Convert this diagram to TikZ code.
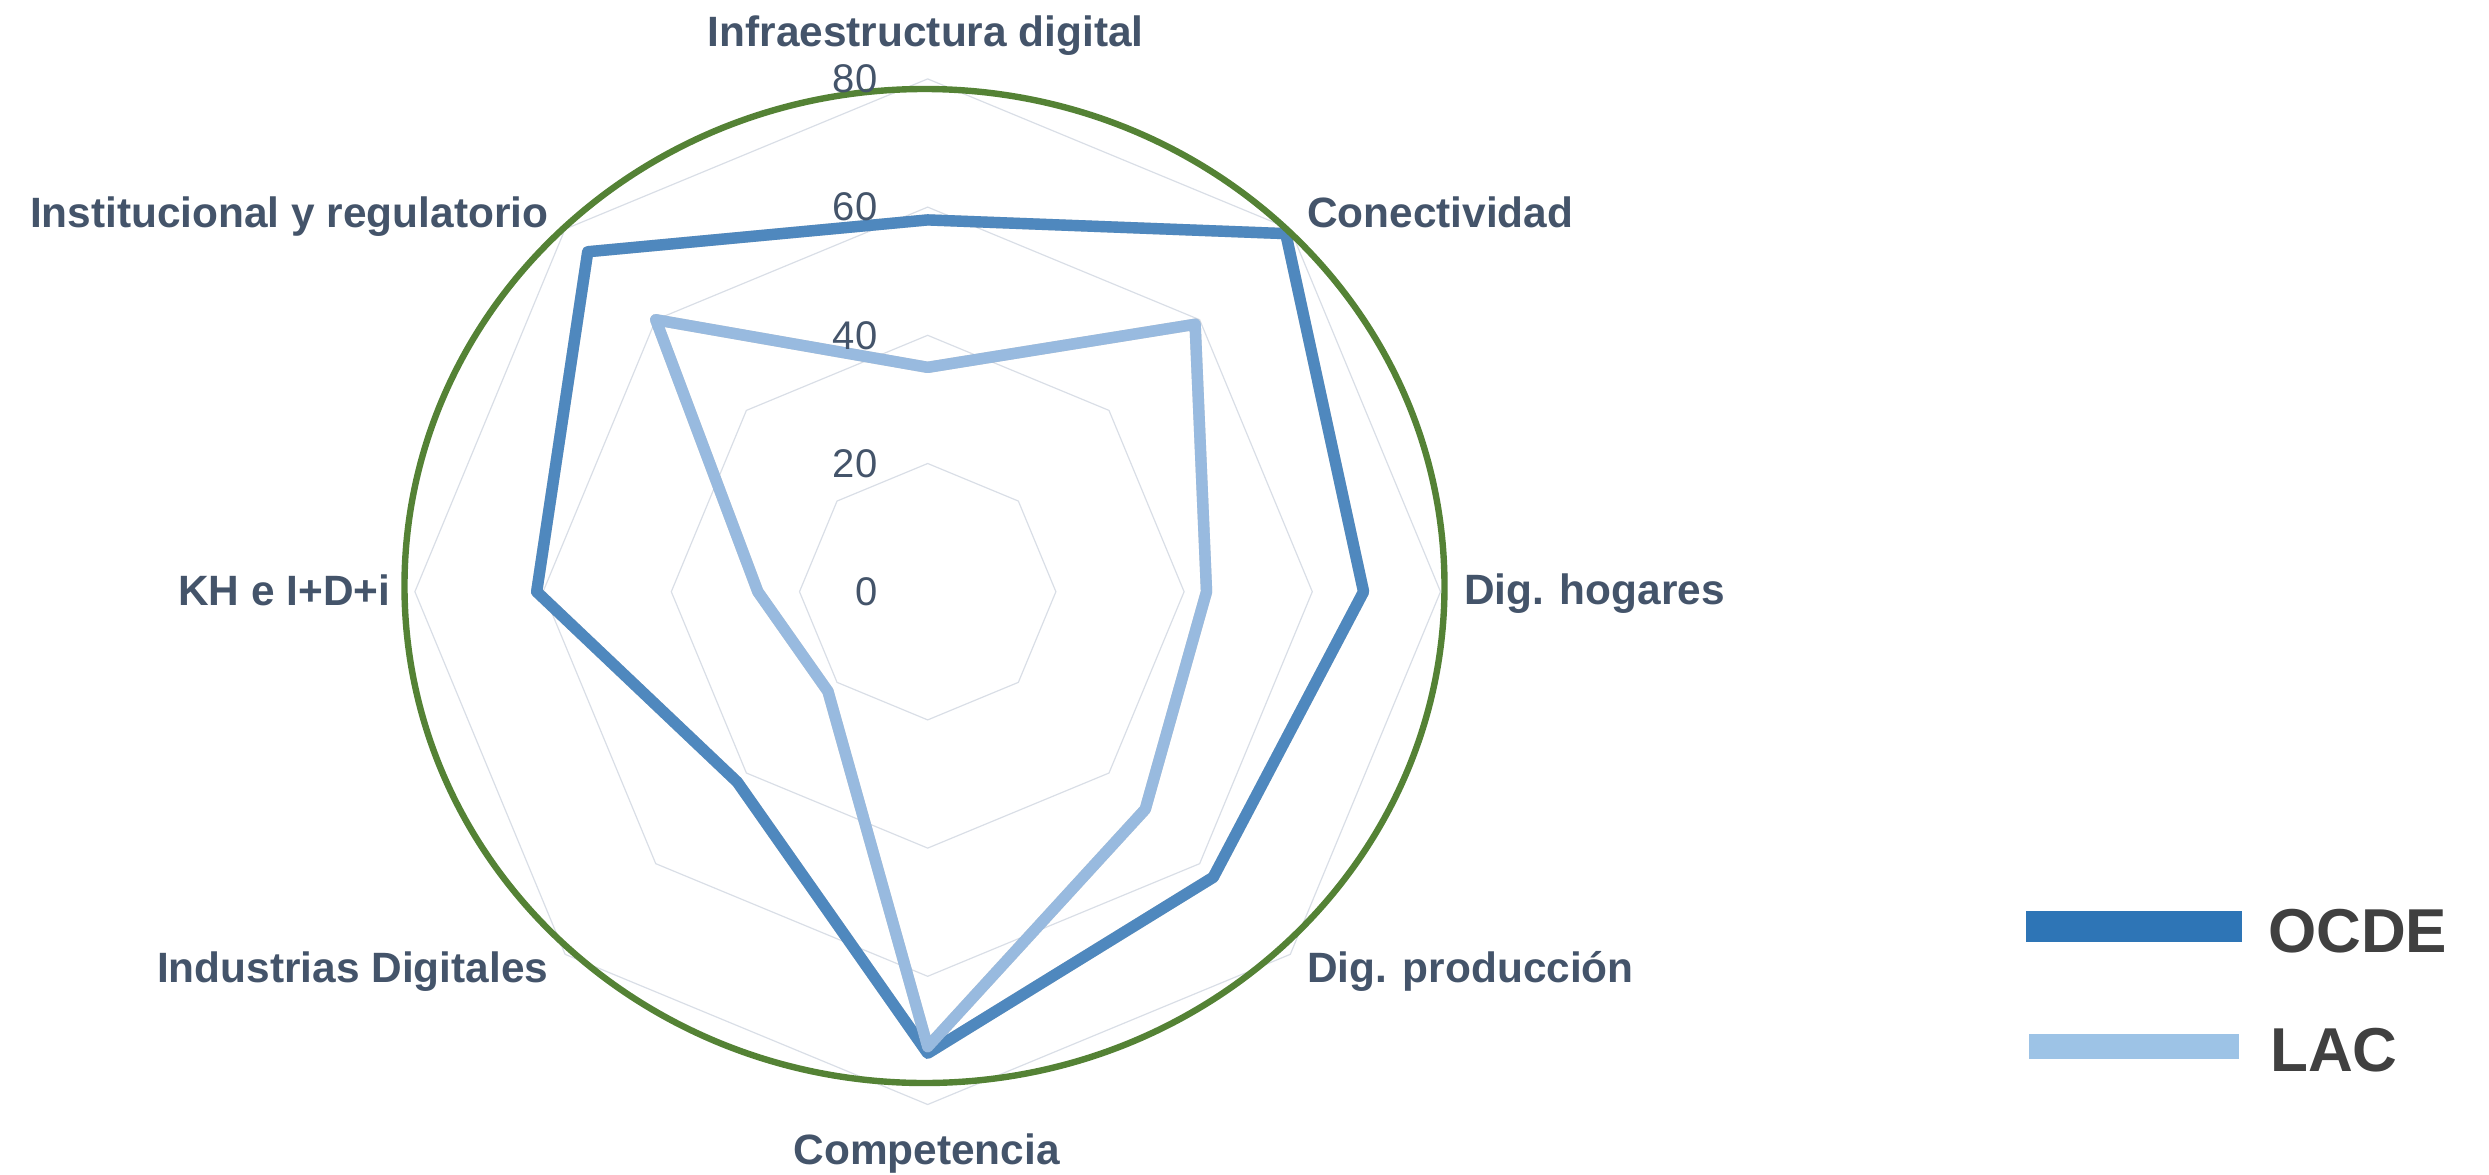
\documentclass[tikz,border=0pt]{standalone}
\usepackage{fontspec}
\setmainfont{Liberation Sans}
\definecolor{labelslate}{HTML}{44546A}
\definecolor{legendgray}{HTML}{404040}
\definecolor{ringgray}{HTML}{D9DEE6}
\definecolor{ocdeline}{HTML}{4F88BE}
\definecolor{lacline}{HTML}{98BADF}
\definecolor{ocdekey}{HTML}{2E75B6}
\definecolor{lackey}{HTML}{9DC3E6}
\definecolor{rimgreen}{HTML}{548235}

\begin{document}
\begin{tikzpicture}[x=0.5pt,y=0.5pt,
    axislabel/.style={font=\bfseries\fontsize{21.2}{24}\selectfont,text=labelslate,inner sep=0},
    ticklabel/.style={font=\fontsize{20}{24}\selectfont,text=labelslate,inner sep=0,anchor=east},
    keylabel/.style={font=\bfseries\fontsize{31}{36}\selectfont,text=legendgray,inner sep=0,anchor=base west},
    ring/.style={draw=ringgray,line width=0.6pt},
    series/.style={line width=5.7pt,line join=round},
    shade/.style={line width=5.7pt,line join=round,draw=black,opacity=0.18}]
    \useasboundingbox (-927.7,-582.3) rectangle (1561.3,591.7);

    % grid rings 20..80
    \begin{scope}[scale=6.41]
        \foreach \r in {20,40,60,80}
            \draw[ring] (90:\r) \foreach \k in {1,...,7}{ -- ({90-45*\k}:\r)} -- cycle;

        \foreach \v [count=\i] in {58,79,68,63,72,42,61,75}
            \coordinate (ocde\i) at ({135-45*\i}:\v);
        \foreach \v [count=\i] in {35,59,43.5,48,71,22,26.5,60}
            \coordinate (lac\i) at ({135-45*\i}:\v);
    \end{scope}

    \draw[shade,shift={(3,-4)}] (ocde1) -- (ocde2) -- (ocde3) -- (ocde4) -- (ocde5) -- (ocde6) -- (ocde7) -- (ocde8) -- cycle;
    \draw[series,draw=ocdeline] (ocde1) -- (ocde2) -- (ocde3) -- (ocde4) -- (ocde5) -- (ocde6) -- (ocde7) -- (ocde8) -- cycle;

    \draw[shade,shift={(3,-4)}] (lac1) -- (lac2) -- (lac3) -- (lac4) -- (lac5) -- (lac6) -- (lac7) -- (lac8) -- cycle;
    \draw[series,draw=lacline] (lac1) -- (lac2) -- (lac3) -- (lac4) -- (lac5) -- (lac6) -- (lac7) -- (lac8) -- cycle;

    \draw[rimgreen,line width=3.2pt] (-3.2,5.7) ellipse [x radius=520, y radius=497];

    \foreach \v in {0,20,40,60,80}
        \node[ticklabel] (tick\v) at (-50,{\v*6.41}) {\v};

    % axis names
    \node[axislabel,anchor=base] (infra) at (-2,545) {Infraestructura digital};
    \node[axislabel,anchor=base west] (conect) at (379,364) {Conectividad};
    \node[axislabel,anchor=base west] (hogares) at (536,-13) {Dig. hogares};
    \node[axislabel,anchor=base west] (produc) at (379,-391) {Dig. producción};
    \node[axislabel,anchor=base] (compet) at (-1,-573) {Competencia};
    \node[axislabel,anchor=base east] (indus) at (-379,-391) {Industrias Digitales};
    \node[axislabel,anchor=base east] (kh) at (-537,-14) {KH e I+D+i};
    \node[axislabel,anchor=base east] (instit) at (-379,364) {Institucional y regulatorio};

    % legend
    \fill[ocdekey] (1098,-319) rectangle (1314,-350);
    \node[keylabel] (ocdekeytext) at (1340,-361) {OCDE};
    \fill[lackey] (1101,-442) rectangle (1311,-467);
    \node[keylabel] (lackeytext) at (1342,-480) {LAC};
\end{tikzpicture}
\end{document}
